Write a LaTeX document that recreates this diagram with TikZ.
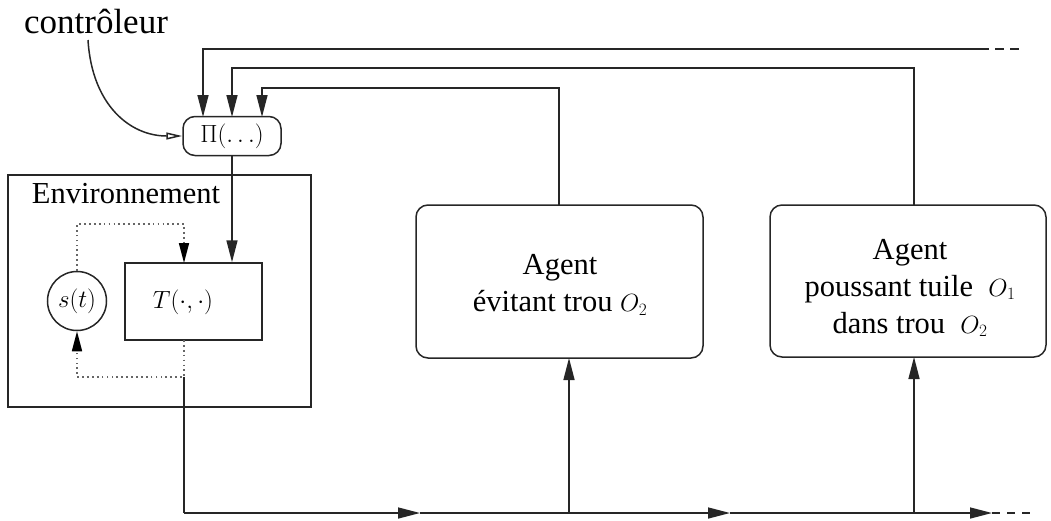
\documentclass[tikz,border=0pt]{standalone}
\usepackage{fontspec}
\setmainfont{Liberation Serif}
\usetikzlibrary{arrows.meta}
\tikzset{
  ln/.style={line width=1.5pt, draw=black!85},
  arr/.style={ln, -{Triangle[length=22pt,width=11pt]}},
  dotln/.style={line width=1.7pt, draw=black!60, dash pattern=on 1.7pt off 3.2pt},
  dotarr/.style={dotln, -{Triangle[length=20pt,width=10pt,color=black]}},
  txt/.style={font=\fontsize{30.5}{37}\selectfont},
  mth/.style={font=\fontsize{24.5}{29}\selectfont},
  box/.style={ln, inner sep=0pt, anchor=center},
}
\newcommand{\sm}[1]{{\fontsize{24.5}{29}\selectfont$#1$}}
\begin{document}
\begin{tikzpicture}[x=1pt,y=-1pt]
\useasboundingbox (0,0) rectangle (1051,520);
% nodes
\node[font=\fontsize{35}{40}\selectfont, inner sep=0pt] (ctrl) at (96,21) {contrôleur};
\node[box, rounded corners=12pt, minimum width=98pt, minimum height=39pt, mth] (pi) at (232,136) {$\Pi(\ldots)$};
\node[box, minimum width=303pt, minimum height=232pt] (env) at (159.5,291) {};
\node[txt, inner sep=0pt] (envlbl) at (126,194) {Environnement};
\node[box, minimum width=137pt, minimum height=77pt] (T) at (193.5,301.5) {};
\node[mth, inner sep=0pt] (Tl) at (183,302) {$T(\cdot,\cdot)$};
\node[box, circle, minimum size=59pt, mth] (s) at (77,301) {$s(t)$};
\node[box, minimum width=287pt, minimum height=153pt, rounded corners=12pt] (a1) at (559.5,281.5) {};
\node[txt, align=center, inner sep=0pt] (a1l) at (560,285) {Agent\\évitant trou \sm{O_2}};
\node[box, minimum width=276pt, minimum height=152pt, rounded corners=12pt] (a2) at (908,281) {};
\node[txt, align=center, inner sep=0pt] (a2l) at (910,288) {Agent\\poussant tuile \ \sm{O_1}\\dans trou \ \sm{O_2}};
% coordinates
\coordinate (pin1) at (203,117);
\coordinate (pin2) at (232,117);
\coordinate (pin3) at (262,117);
\coordinate (top1) at (980,49);
\coordinate (top1end) at (1022,49);
\coordinate (a1top) at (559,205);
\coordinate (a2top) at (914,205);
\coordinate (Tin) at (184,263);
\coordinate (Tout) at (184,340);
\coordinate (tj) at (184,377);
\coordinate (b0) at (184,513);
\coordinate (b1) at (420,513);
\coordinate (b2) at (730,513);
\coordinate (b3) at (992,513);
\coordinate (b4) at (1035,513);
\coordinate (a1bot) at (569,358);
\coordinate (a2bot) at (914,357);
% controller curve
\draw[ln, -{Triangle[open,length=16pt,width=7pt]}] (88,40) .. controls (92,105) and (130,136) .. (pi.west);
% feedback lines into Pi
\draw[arr] (top1) -- (top1 -| pin1) -- (pin1);
\draw[ln, dash pattern=on 9pt off 6pt] (top1) -- (top1end);
\draw[arr] (a2top) |- (232,68) -- (pin2);
\draw[arr] (a1top) |- (262,88) -- (pin3);
% Pi to T
\draw[arr] (pi.south) -- (pi.south |- T.north);
% dotted loops
\draw[dotarr] (s.north) -- (77,224) -| (Tin);
\draw[dotarr] (Tout) -- (tj) -| (s.south);
% bus
\draw[ln] (tj) -- (b0);
\draw[arr] (b0) -- (b1);
\draw[ln] (b1) -- (a1bot |- b1);
\draw[arr] (a1bot |- b1) -- (b2);
\draw[ln] (b2) -- (a2bot |- b2);
\draw[arr] (a2bot |- b2) -- (b3);
\draw[ln, dash pattern=on 8pt off 7pt] (b3) -- (b4);
\draw[arr] (a1bot |- b1) -- (a1bot);
\draw[arr] (a2bot |- b2) -- (a2bot);
\end{tikzpicture}
\end{document}
